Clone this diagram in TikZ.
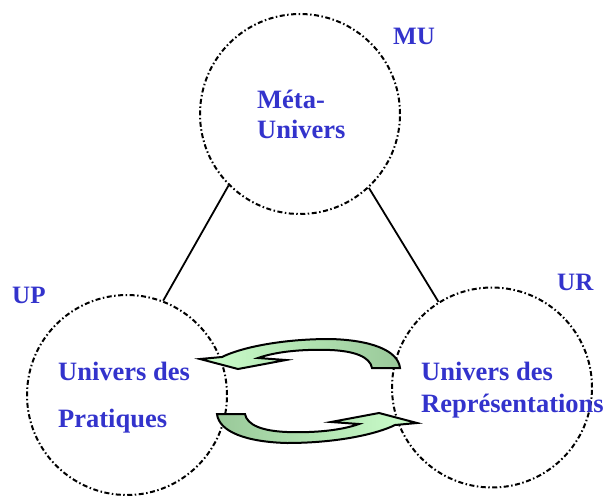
\documentclass[tikz,border=0pt]{standalone}
\usepackage{fontspec}
\setmainfont{Liberation Serif}
\definecolor{univblue}{RGB}{51,51,204}
\definecolor{arrowpale}{RGB}{204,255,204}
\definecolor{arrowdark}{RGB}{153,200,153}
\begin{document}
\begin{tikzpicture}[
  x=1pt, y=-1pt,
  % Node styles
  univ/.style={circle, draw=black, minimum size=200pt, inner sep=0pt,
    line width=2pt, dash pattern=on 5pt off 2.5pt on 1.5pt off 2.5pt},
  univtext/.style={text=univblue, align=left, anchor=base west, inner sep=0pt,
    font=\bfseries\fontsize{26.5}{30}\selectfont},
  tag/.style={text=univblue, anchor=base west, inner sep=0pt,
    font=\bfseries\fontsize{25}{30}\selectfont},
  link/.style={draw=black, line width=1.8pt},
  cyclearrow/.style={draw=black, line width=2pt, line join=miter},
]

\useasboundingbox (0,0) rectangle (607,495);

% === Circles ===
\node[univ] (mu) at (300,114) {};
\node[univ] (up) at (127,395) {};
\node[univ] (ur) at (492,387.5) {};

% === Texts inside the circles (base = last line) ===
\node[univtext] (mutext) at (257,138) {Méta-\\Univers};
\node[univtext] (uptext) at (58,427) {Univers des\\[17pt]Pratiques};
\node[univtext] (urtext) at (421,412) {Univers des\\[2pt]Représentations};

% === Tags ===
\node[tag] (mutag) at (393,45) {MU};
\node[tag] (uptag) at (12,303) {UP};
\node[tag] (urtag) at (557,290) {UR};

% === Links to the Meta-Univers ===
\draw[link] (mu.225) -- (up.69);
\draw[link] (mu.-47) -- (ur.122);

% === Cycle arrows between UP and UR ===
% UR -> UP (upper)
\path[cyclearrow, left color=arrowpale, right color=arrowdark]
  (400,368) .. controls (398,350) and (370,340) .. (330,339)
  .. controls (280,339) and (240,348) .. (222,357)
  -- (200,359) -- (238,369) -- (286,360) -- (258,358)
  .. controls (275,352) and (300,349) .. (330,350)
  .. controls (355,351) and (370,357) .. (372,368) -- cycle;
% UP -> UR (lower)
\path[cyclearrow, left color=arrowdark, right color=arrowpale]
  (217,414) .. controls (219,432) and (247,442) .. (287,443)
  .. controls (337,443) and (377,434) .. (395,425)
  -- (417,423) -- (379,413) -- (331,422) -- (359,424)
  .. controls (342,430) and (317,433) .. (287,432)
  .. controls (262,431) and (247,425) .. (245,414) -- cycle;

\end{tikzpicture}
\end{document}
